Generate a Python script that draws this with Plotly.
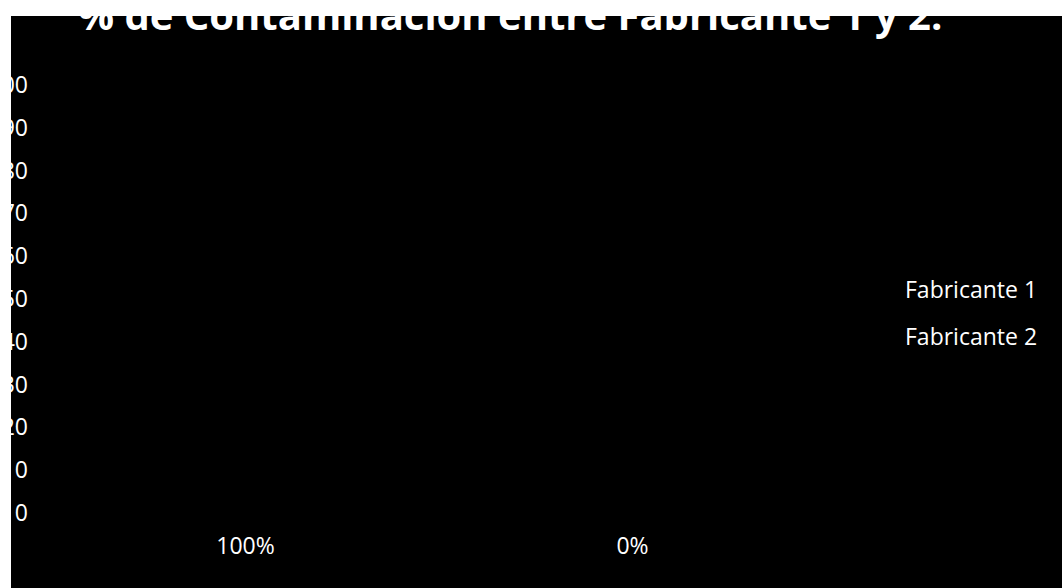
import plotly.graph_objects as go

categories = ["100%", "0%"]
fabricante_1 = [0, 0]
fabricante_2 = [0, 0]
series_names = ["Fabricante 1", "Fabricante 2"]
y_ticks = [0, 10, 20, 30, 40, 50, 60, 70, 80, 90, 100]
title_text = "% de Contaminación entre Fabricante 1 y 2:"

W, H = 1051, 572
FONT = "Open Sans"

fig = go.Figure()
for name, vals, grp in [(series_names[0], fabricante_1, "g1"), (series_names[1], fabricante_2, "g2")]:
    fig.add_trace(go.Bar(
        x=categories, y=vals, name=name, legendgroup=grp,
        marker=dict(color="#000000", line=dict(width=0)),
    ))

fig.update_layout(
    width=W, height=H,
    paper_bgcolor="#000000", plot_bgcolor="#000000",
    margin=dict(l=41, r=236, t=69, b=75, pad=0, autoexpand=False),
    font=dict(family=FONT, color="#ffffff", size=23),
    title=dict(
        text="<b>" + title_text + "</b>",
        font=dict(family=FONT, size=40, color="#ffffff"),
        xref="container", yref="container",
        x=0.475, xanchor="center", y=1.0, yanchor="middle",
    ),
    showlegend=True,
    legend=dict(
        xref="container", yref="container",
        x=854 / W, xanchor="left", y=1 - 252 / H, yanchor="top",
        bgcolor="rgba(0,0,0,0)", font=dict(family=FONT, size=23, color="#ffffff"),
        tracegroupgap=14, traceorder="grouped", itemwidth=30,
    ),
    barmode="group",
    xaxis=dict(
        type="category", showgrid=False, zeroline=False, showline=False,
        ticks="", tickfont=dict(family=FONT, size=23, color="#ffffff"),
        ticklabelstandoff=17, automargin=False,
    ),
    yaxis=dict(
        range=[0, 100], tickmode="array", tickvals=y_ticks,
        ticktext=[str(v) for v in y_ticks],
        showgrid=False, zeroline=False, showline=False, ticks="",
        tickfont=dict(family=FONT, size=23, color="#ffffff"),
        ticklabelstandoff=23, automargin=False,
    ),
)

fig.write_html(
    "out.html",
    post_script="document.body.style.margin='16px 0 0 11px';document.body.style.overflow='hidden';",
)
